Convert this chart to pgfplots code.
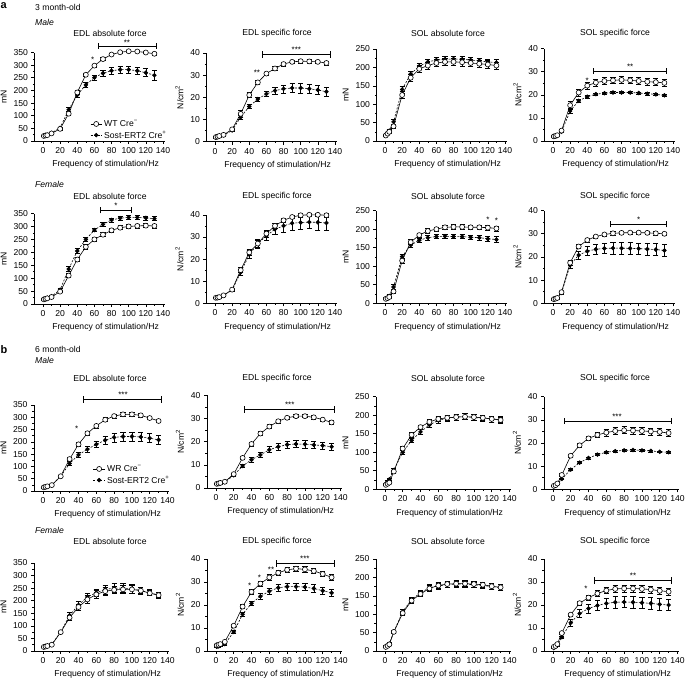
\documentclass[border=0pt]{standalone}
\usepackage{fontspec}
\setmainfont{Liberation Sans}
\usepackage{pgfplots}
\pgfplotsset{compat=1.18}
\newcommand\fs{\fontsize{8.6}{10}\selectfont}
\newcommand\fss{\fontsize{8}{8}\selectfont}
\pgfplotsset{
 panel/.style={scale only axis, axis lines=left, axis line style={-, line width=0.6pt},
  tick align=outside, major tick length=3pt, minor tick length=1.6pt,
  every tick/.style={line width=0.6pt, black},
  xmin=-10, xmax=142, ymin=0, xtick={0,20,...,140}, minor x tick num=1, minor y tick num=1,
  clip=false, enlargelimits=false, /pgf/number format/assume math mode=true,
  tick label style={font=\fs}, label style={font=\fs},
  xlabel={Frequency of stimulation/Hz}, xlabel style={xshift=6pt},
  anchor=south west},
 r12/.style={width=130.3pt}, r34/.style={width=135.3pt},
 mnA/.style={ymax=350, ytick={0,50,...,350}, ylabel={mN}},
 mnB/.style={ymax=250, ytick={0,50,...,250}, ylabel={mN}},
 ncm/.style={ymax=40, ytick={0,10,...,40}, ylabel={N/cm\textsuperscript{2}}},
 wt/.style={black, solid, line width=0.6pt, mark=*, mark size=2.5pt, mark options={solid, fill=white, line width=0.6pt},
  error bars/.cd, y dir=both, y explicit, error bar style={line width=0.6pt, solid},
  error mark options={rotate=90, mark size=2.6pt, line width=0.6pt}},
 mut/.style={black, dash pattern=on 2pt off 1.5pt, line width=0.6pt, mark=*, mark size=1.9pt, mark options={solid, fill=black},
  error bars/.cd, y dir=both, y explicit, error bar style={line width=0.6pt, solid},
  error mark options={rotate=90, mark size=2.6pt, line width=0.6pt}},
 leg/.style={reverse legend, legend cell align=left,
  legend style={draw=none, fill=none, font=\fs, inner sep=0pt, row sep=-1pt, anchor=north west},
  legend image code/.code={\draw[mark repeat=2,mark phase=2,##1] plot coordinates {(0cm,0cm) (0.2cm,0cm) (0.4cm,0cm)};}},
}
\newcommand\sigbar[3]{\draw[line width=0.6pt, |-|] (axis cs:#1,#3) -- (axis cs:#2,#3);}
\newcommand\sig[3]{\node[font=\fss, inner sep=0pt] at (axis cs:#1,#2) {#3};}
\begin{document}
\begin{tikzpicture}
\path[use as bounding box] (0,0) rectangle (685pt,-680pt);
% headings
\node[font=\bfseries\fontsize{11}{11}\selectfont, anchor=north west, inner sep=0pt] at (0.5pt,-2.5pt) {a};
\node[font=\fs, anchor=west, inner sep=0pt] at (35pt,-7pt) {3 month-old};
\node[font=\fs\itshape, anchor=west, inner sep=0pt] at (35pt,-22pt) {Male};
\node[font=\fs\itshape, anchor=west, inner sep=0pt] at (35pt,-184pt) {Female};
\node[font=\bfseries\fontsize{11}{11}\selectfont, anchor=west, inner sep=0pt] at (0.5pt,-350pt) {b};
\node[font=\fs, anchor=west, inner sep=0pt] at (35pt,-349pt) {6 month-old};
\node[font=\fs\itshape, anchor=west, inner sep=0pt] at (35pt,-360pt) {Male};
\node[font=\fs\itshape, anchor=west, inner sep=0pt] at (35pt,-530pt) {Female};
\foreach \yy in {33,196,378,541}{
 \node[font=\fs] at (110pt,-\yy pt) {EDL absolute force};
 \node[font=\fs] at (277pt,-\yy pt) {EDL specific force};
 \node[font=\fs] at (448pt,-\yy pt) {SOL absolute force};
 \node[font=\fs] at (615pt,-\yy pt) {SOL specific force};
}
%%%%%%%%%%%% ROW 1
\begin{axis}[panel, r12, mnA, leg, at={(34.4pt,-141pt)}, height=88.5pt,
 legend style={at={(0.427,0.26)}}]
\addplot+[mut] coordinates {(1,21)+-(0,2)(3,23)+-(0,2)(5,25)+-(0,2)(10,32)+-(0,3)(20,52)+-(0,4)(30,124)+-(0,8)(40,182)+-(0,8)(50,222)+-(0,9)(60,251)+-(0,10)(70,268)+-(0,13)(80,278)+-(0,15)(90,282)+-(0,15)(100,282)+-(0,15)(110,278)+-(0,15)(120,270)+-(0,16)(130,260)+-(0,18)};
\addlegendentry{Sost-ERT2 Cre\textsuperscript{+}}
\addplot+[wt] coordinates {(1,20)+-(0,2)(3,22)+-(0,2)(5,23)+-(0,2)(10,30)+-(0,3)(20,48)+-(0,4)(30,108)+-(0,8)(40,192)+-(0,7)(50,262)+-(0,6)(60,298)+-(0,6)(70,324)+-(0,6)(80,342)+-(0,5)(90,351)+-(0,5)(100,355)+-(0,5)(110,354)+-(0,5)(120,350)+-(0,5)(130,345)+-(0,5)};
\addlegendentry{WT Cre\textsuperscript{−}}
\sigbar{64}{132}{376}\sig{98}{390}{**}\sig{58}{320}{*}
\end{axis}
\begin{axis}[panel, r12, ncm, at={(206.4pt,-141.5pt)}, height=88.5pt]
\addplot+[mut] coordinates {(1,1.9)+-(0,0.3)(3,2)+-(0,0.3)(5,2.2)+-(0,0.3)(10,2.8)+-(0,0.4)(20,5)+-(0,0.6)(30,11)+-(0,1)(40,15.8)+-(0,0.8)(50,19.2)+-(0,1)(60,21.5)+-(0,1.2)(70,23)+-(0,1.6)(80,23.8)+-(0,1.8)(90,24.2)+-(0,2)(100,24.2)+-(0,2.2)(110,23.8)+-(0,2)(120,23.3)+-(0,2)(130,22.5)+-(0,2)};
\addplot+[wt] coordinates {(1,2)+-(0,0.3)(3,2.2)+-(0,0.3)(5,2.5)+-(0,0.3)(10,3)+-(0,0.4)(20,5.5)+-(0,0.6)(30,12.5)+-(0,1.5)(40,21)+-(0,1.2)(50,26.7)+-(0,1)(60,30.7)+-(0,0.8)(70,33)+-(0,0.8)(80,35)+-(0,0.8)(90,36)+-(0,0.8)(100,36.3)+-(0,0.8)(110,36.2)+-(0,0.8)(120,36)+-(0,0.8)(130,35.5)+-(0,0.9)};
\sigbar{55}{135}{39.3}\sig{95}{41.3}{***}\sig{49}{31}{**}
\end{axis}
\begin{axis}[panel, r12, mnB, at={(376.4pt,-141pt)}, height=92pt]
\addplot+[mut] coordinates {(1,17)+-(0,2)(3,22)+-(0,3)(5,28)+-(0,4)(10,52)+-(0,8)(20,140)+-(0,10)(30,182)+-(0,8)(40,203)+-(0,8)(50,215)+-(0,8)(60,220)+-(0,8)(70,222)+-(0,8)(80,223)+-(0,8)(90,222)+-(0,8)(100,220)+-(0,8)(110,218)+-(0,8)(120,215)+-(0,8)(130,213)+-(0,8)};
\addplot+[wt] coordinates {(1,15)+-(0,2)(3,20)+-(0,3)(5,25)+-(0,4)(10,40)+-(0,6)(20,125)+-(0,10)(30,172)+-(0,10)(40,196)+-(0,10)(50,205)+-(0,10)(60,212)+-(0,10)(70,215)+-(0,10)(80,215)+-(0,10)(90,214)+-(0,10)(100,212)+-(0,10)(110,210)+-(0,10)(120,208)+-(0,10)(130,205)+-(0,10)};
\end{axis}
\begin{axis}[panel, r12, ncm, at={(544.4pt,-141pt)}, height=92.3pt]
\addplot+[mut] coordinates {(1,1.8)+-(0,0.2)(3,2)+-(0,0.2)(5,2.3)+-(0,0.2)(10,4)+-(0,0.4)(20,13)+-(0,0.8)(30,17.4)+-(0,0.5)(40,19.2)+-(0,0.5)(50,20.3)+-(0,0.5)(60,20.7)+-(0,0.5)(70,21)+-(0,0.5)(80,21)+-(0,0.5)(90,21)+-(0,0.5)(100,20.8)+-(0,0.5)(110,20.5)+-(0,0.5)(120,20.2)+-(0,0.5)(130,19.8)+-(0,0.5)};
\addplot+[wt] coordinates {(1,2)+-(0,0.3)(3,2.2)+-(0,0.3)(5,2.5)+-(0,0.4)(10,4.5)+-(0,0.6)(20,15.5)+-(0,1.5)(30,21)+-(0,1.5)(40,24)+-(0,1.5)(50,25.3)+-(0,1.5)(60,26)+-(0,1.5)(70,26.3)+-(0,1.5)(80,26.5)+-(0,1.5)(90,26.3)+-(0,1.5)(100,26)+-(0,1.5)(110,25.7)+-(0,1.5)(120,25.5)+-(0,1.5)(130,25.2)+-(0,1.5)};
\sigbar{47}{133}{30.3}\sig{90}{32.2}{**}\sig{40}{26.3}{*}
\end{axis}
%%%%%%%%%%%% ROW 2
\begin{axis}[panel, r12, mnA, at={(34.4pt,-304pt)}, height=90.5pt]
\addplot+[mut] coordinates {(1,20)+-(0,2)(3,22)+-(0,2)(5,24)+-(0,2)(10,30)+-(0,3)(20,55)+-(0,4)(30,135)+-(0,10)(40,205)+-(0,10)(50,250)+-(0,9)(60,286)+-(0,6)(70,308)+-(0,7)(80,325)+-(0,8)(90,332)+-(0,8)(100,335)+-(0,8)(110,335)+-(0,8)(120,333)+-(0,8)(130,330)+-(0,8)};
\addplot+[wt] coordinates {(1,18)+-(0,2)(3,20)+-(0,2)(5,22)+-(0,2)(10,27)+-(0,3)(20,48)+-(0,4)(30,110)+-(0,8)(40,172)+-(0,8)(50,221)+-(0,8)(60,250)+-(0,8)(70,268)+-(0,8)(80,285)+-(0,8)(90,295)+-(0,8)(100,300)+-(0,8)(110,302)+-(0,8)(120,303)+-(0,8)(130,302)+-(0,8)};
\sigbar{67}{103}{363}\sig{85}{379}{*}
\end{axis}
\begin{axis}[panel, r12, ncm, at={(206.4pt,-303.3pt)}, height=88.5pt]
\addplot+[mut] coordinates {(1,2.4)+-(0,0.3)(3,2.5)+-(0,0.3)(5,2.7)+-(0,0.3)(10,3.5)+-(0,0.4)(20,6)+-(0,0.5)(30,14)+-(0,1.5)(40,22)+-(0,1.8)(50,27)+-(0,2)(60,30.5)+-(0,2)(70,33.5)+-(0,2.5)(80,35)+-(0,3)(90,36.2)+-(0,3)(100,36.5)+-(0,3)(110,36.7)+-(0,3)(120,36.6)+-(0,3.5)(130,36.3)+-(0,3.5)};
\addplot+[wt] coordinates {(1,2.5)+-(0,0.3)(3,2.6)+-(0,0.3)(5,2.8)+-(0,0.3)(10,3.6)+-(0,0.4)(20,6.2)+-(0,0.5)(30,15)+-(0,1.2)(40,23)+-(0,1.2)(50,27)+-(0,1.5)(60,31.5)+-(0,1.5)(70,35)+-(0,1)(80,37.5)+-(0,1)(90,39)+-(0,0.8)(100,39.8)+-(0,0.8)(110,40)+-(0,0.8)(120,40)+-(0,0.8)(130,39.8)+-(0,0.8)};
\end{axis}
\begin{axis}[panel, r12, mnB, at={(376.4pt,-303.3pt)}, height=92.7pt]
\addplot+[mut] coordinates {(1,13)+-(0,2)(3,16)+-(0,2)(5,20)+-(0,3)(10,44)+-(0,6)(20,126)+-(0,7)(30,157)+-(0,6)(40,170)+-(0,6)(50,177)+-(0,6)(60,180)+-(0,6)(70,181)+-(0,6)(80,180)+-(0,6)(90,180)+-(0,6)(100,178)+-(0,6)(110,177)+-(0,7)(120,174)+-(0,8)(130,172)+-(0,8)};
\addplot+[wt] coordinates {(1,12)+-(0,2)(3,14)+-(0,2)(5,17)+-(0,3)(10,32)+-(0,5)(20,115)+-(0,7)(30,165)+-(0,7)(40,184)+-(0,6)(50,195)+-(0,6)(60,200)+-(0,6)(70,205)+-(0,6)(80,206)+-(0,6)(90,206)+-(0,6)(100,205)+-(0,6)(110,205)+-(0,6)(120,204)+-(0,7)(130,202)+-(0,7)};
\sig{120}{226}{*}\sig{130}{222}{*}
\end{axis}
\begin{axis}[panel, r12, ncm, at={(544.4pt,-303.3pt)}, height=92.7pt]
\addplot+[mut] coordinates {(1,1.7)+-(0,0.2)(3,1.9)+-(0,0.2)(5,2.2)+-(0,0.3)(10,4.5)+-(0,0.5)(20,16.5)+-(0,1.5)(30,20.8)+-(0,1.8)(40,22.5)+-(0,2)(50,23.3)+-(0,2.2)(60,23.7)+-(0,2.3)(70,23.8)+-(0,2.5)(80,23.8)+-(0,2.5)(90,23.7)+-(0,2.5)(100,23.6)+-(0,2.5)(110,23.4)+-(0,2.5)(120,23.2)+-(0,2.5)(130,22.8)+-(0,2.5)};
\addplot+[wt] coordinates {(1,1.8)+-(0,0.2)(3,2)+-(0,0.2)(5,2.3)+-(0,0.3)(10,4.8)+-(0,0.5)(20,17.5)+-(0,1)(30,24.5)+-(0,0.8)(40,27.3)+-(0,0.8)(50,28.8)+-(0,0.7)(60,29.7)+-(0,0.7)(70,30.2)+-(0,0.7)(80,30.4)+-(0,0.7)(90,30.5)+-(0,0.7)(100,30.5)+-(0,0.7)(110,30.4)+-(0,0.7)(120,30.2)+-(0,0.7)(130,30)+-(0,0.7)};
\sigbar{67}{133}{34.1}\sig{100}{36}{*}
\end{axis}
%%%%%%%%%%%% ROW 3
\begin{axis}[panel, r34, mnA, leg, at={(34pt,-491pt)}, height=86pt,
 legend style={at={(0.436,0.326)}}]
\addplot+[mut] coordinates {(1,15)+-(0,2)(3,17)+-(0,2)(5,19)+-(0,2)(10,25)+-(0,3)(20,60)+-(0,5)(30,112)+-(0,8)(40,147)+-(0,10)(50,170)+-(0,12)(60,190)+-(0,14)(70,207)+-(0,16)(80,218)+-(0,18)(90,222)+-(0,18)(100,222)+-(0,18)(110,220)+-(0,18)(120,215)+-(0,18)(130,208)+-(0,18)};
\addlegendentry{Sost-ERT2 Cre\textsuperscript{+}}
\addplot+[wt] coordinates {(1,15)+-(0,2)(3,17)+-(0,2)(5,19)+-(0,2)(10,24)+-(0,3)(20,60)+-(0,5)(30,130)+-(0,7)(40,190)+-(0,8)(50,235)+-(0,8)(60,265)+-(0,8)(70,290)+-(0,8)(80,305)+-(0,8)(90,312)+-(0,8)(100,312)+-(0,8)(110,308)+-(0,8)(120,297)+-(0,7)(130,285)+-(0,7)};
\addlegendentry{WR Cre\textsuperscript{−}}
\sigbar{45}{133}{373}\sig{90}{390}{***}\sig{38}{255}{*}
\end{axis}
\begin{axis}[panel, r34, ncm, at={(207pt,-488pt)}, height=92.7pt]
\addplot+[mut] coordinates {(1,1.7)+-(0,0.2)(3,1.8)+-(0,0.2)(5,2)+-(0,0.2)(10,2.5)+-(0,0.3)(20,5.5)+-(0,0.5)(30,9.5)+-(0,0.7)(40,12.2)+-(0,1)(50,14.3)+-(0,1.2)(60,16.5)+-(0,1.3)(70,17.8)+-(0,1.4)(80,18.7)+-(0,1.5)(90,19)+-(0,1.6)(100,18.9)+-(0,1.6)(110,18.6)+-(0,1.5)(120,18.3)+-(0,1.5)(130,17.8)+-(0,1.5)};
\addplot+[wt] coordinates {(1,1.8)+-(0,0.2)(3,2)+-(0,0.2)(5,2.2)+-(0,0.2)(10,2.7)+-(0,0.3)(20,6)+-(0,0.4)(30,13)+-(0,0.6)(40,19)+-(0,0.8)(50,23.5)+-(0,0.8)(60,26.5)+-(0,0.8)(70,28.8)+-(0,0.7)(80,30.3)+-(0,0.7)(90,31)+-(0,0.7)(100,31)+-(0,0.7)(110,30.5)+-(0,0.7)(120,29.5)+-(0,0.7)(130,28.3)+-(0,0.7)};
\sigbar{32}{133}{33.8}\sig{83}{35.8}{***}
\end{axis}
\begin{axis}[panel, r34, mnB, at={(376pt,-489.3pt)}, height=92.6pt]
\addplot+[mut] coordinates {(1,15)+-(0,2)(3,20)+-(0,3)(5,27)+-(0,3)(10,52)+-(0,4)(20,100)+-(0,5)(30,132)+-(0,6)(40,155)+-(0,7)(50,174)+-(0,7)(60,186)+-(0,8)(70,192)+-(0,8)(80,195)+-(0,8)(90,196)+-(0,8)(100,194)+-(0,8)(110,192)+-(0,8)(120,190)+-(0,8)(130,188)+-(0,8)};
\addplot+[wt] coordinates {(1,12)+-(0,2)(3,15)+-(0,2)(5,18)+-(0,3)(10,48)+-(0,4)(20,110)+-(0,5)(30,147)+-(0,6)(40,168)+-(0,6)(50,182)+-(0,7)(60,190)+-(0,7)(70,193)+-(0,8)(80,195)+-(0,8)(90,196)+-(0,8)(100,195)+-(0,8)(110,193)+-(0,8)(120,190)+-(0,8)(130,187)+-(0,8)};
\end{axis}
\begin{axis}[panel, r34, ncm, at={(544pt,-489.3pt)}, height=92.6pt]
\addplot+[mut] coordinates {(1,1.3)+-(0,0.2)(3,1.6)+-(0,0.2)(5,2.2)+-(0,0.2)(10,4.5)+-(0,0.3)(20,8.5)+-(0,0.4)(30,11.5)+-(0,0.4)(40,13.5)+-(0,0.4)(50,15)+-(0,0.4)(60,16)+-(0,0.4)(70,16.5)+-(0,0.4)(80,16.8)+-(0,0.4)(90,17)+-(0,0.4)(100,16.8)+-(0,0.4)(110,16.6)+-(0,0.4)(120,16.2)+-(0,0.4)(130,16)+-(0,0.4)};
\addplot+[wt] coordinates {(1,1.5)+-(0,0.2)(3,1.8)+-(0,0.2)(5,2.5)+-(0,0.3)(10,6.2)+-(0,0.6)(20,14.5)+-(0,0.6)(30,19)+-(0,0.8)(40,22)+-(0,1)(50,23.5)+-(0,1.2)(60,24.5)+-(0,1.4)(70,25.2)+-(0,1.5)(80,25.5)+-(0,1.5)(90,25.4)+-(0,1.5)(100,25.2)+-(0,1.5)(110,25)+-(0,1.5)(120,24.8)+-(0,1.5)(130,24.3)+-(0,1.5)};
\sigbar{13}{133}{29.5}\sig{72}{31.5}{***}
\end{axis}
%%%%%%%%%%%% ROW 4
\begin{axis}[panel, r34, mnA, at={(34pt,-651pt)}, height=88pt]
\addplot+[mut] coordinates {(1,16)+-(0,2)(3,18)+-(0,2)(5,20)+-(0,2)(10,27)+-(0,3)(20,75)+-(0,5)(30,142)+-(0,12)(40,183)+-(0,15)(50,215)+-(0,15)(60,232)+-(0,15)(70,245)+-(0,18)(80,250)+-(0,18)(90,250)+-(0,18)(100,248)+-(0,18)(110,240)+-(0,15)(120,232)+-(0,12)(130,222)+-(0,12)};
\addplot+[wt] coordinates {(1,16)+-(0,2)(3,18)+-(0,2)(5,20)+-(0,2)(10,25)+-(0,3)(20,75)+-(0,5)(30,133)+-(0,10)(40,175)+-(0,12)(50,205)+-(0,15)(60,225)+-(0,15)(70,238)+-(0,15)(80,243)+-(0,15)(90,245)+-(0,15)(100,245)+-(0,15)(110,240)+-(0,12)(120,230)+-(0,10)(130,222)+-(0,10)};
\end{axis}
\begin{axis}[panel, r34, ncm, at={(207pt,-651pt)}, height=92pt]
\addplot+[mut] coordinates {(1,1.8)+-(0,0.3)(3,2)+-(0,0.3)(5,2.5)+-(0,0.3)(10,3)+-(0,0.4)(20,8.3)+-(0,0.6)(30,16)+-(0,0.8)(40,20.7)+-(0,1)(50,23.8)+-(0,1.2)(60,26)+-(0,1.3)(70,27.5)+-(0,1.5)(80,28)+-(0,1.6)(90,28)+-(0,1.6)(100,27.8)+-(0,1.6)(110,27.2)+-(0,1.6)(120,26.2)+-(0,1.6)(130,25.3)+-(0,1.6)};
\addplot+[wt] coordinates {(1,2.5)+-(0,0.3)(3,2.7)+-(0,0.3)(5,3)+-(0,0.3)(10,4)+-(0,0.4)(20,11)+-(0,0.6)(30,19.3)+-(0,0.8)(40,25.7)+-(0,1)(50,29.3)+-(0,1)(60,32)+-(0,1.2)(70,34)+-(0,1.2)(80,35.3)+-(0,1.2)(90,35.8)+-(0,1.2)(100,35.5)+-(0,1.2)(110,34.8)+-(0,1.2)(120,33.5)+-(0,1.2)(130,32)+-(0,1.2)};
\sigbar{68}{133}{38.1}\sig{100}{40.2}{***}\sig{38}{28.5}{*}\sig{49}{32}{*}\sig{62}{35.5}{**}
\end{axis}
\begin{axis}[panel, r34, mnB, at={(376pt,-651pt)}, height=92pt]
\addplot+[mut] coordinates {(1,13)+-(0,2)(3,16)+-(0,2)(5,20)+-(0,3)(10,52)+-(0,4)(20,107)+-(0,6)(30,140)+-(0,7)(40,158)+-(0,7)(50,172)+-(0,8)(60,177)+-(0,8)(70,180)+-(0,8)(80,182)+-(0,8)(90,182)+-(0,8)(100,180)+-(0,8)(110,178)+-(0,8)(120,175)+-(0,8)(130,172)+-(0,8)};
\addplot+[wt] coordinates {(1,11)+-(0,2)(3,14)+-(0,2)(5,18)+-(0,3)(10,52)+-(0,4)(20,103)+-(0,6)(30,137)+-(0,7)(40,155)+-(0,7)(50,170)+-(0,8)(60,178)+-(0,8)(70,182)+-(0,8)(80,183)+-(0,8)(90,183)+-(0,8)(100,182)+-(0,8)(110,180)+-(0,8)(120,176)+-(0,8)(130,173)+-(0,8)};
\end{axis}
\begin{axis}[panel, r34, ncm, at={(544pt,-651pt)}, height=92pt]
\addplot+[mut] coordinates {(1,1.3)+-(0,0.3)(3,1.8)+-(0,0.3)(5,2.5)+-(0,0.3)(10,6)+-(0,0.6)(20,12.3)+-(0,1.5)(30,16.3)+-(0,1.8)(40,18.5)+-(0,2)(50,19.8)+-(0,2.2)(60,20.7)+-(0,2.3)(70,21.2)+-(0,2.5)(80,21.3)+-(0,2.5)(90,21.2)+-(0,2.5)(100,21)+-(0,2.5)(110,20.7)+-(0,2.5)(120,20.3)+-(0,2.5)(130,20)+-(0,2.5)};
\addplot+[wt] coordinates {(1,1.8)+-(0,0.3)(3,2.2)+-(0,0.3)(5,3)+-(0,0.3)(10,7.8)+-(0,0.5)(20,15.8)+-(0,0.8)(30,20.8)+-(0,1)(40,23.2)+-(0,1.2)(50,25)+-(0,1.3)(60,26.3)+-(0,1.4)(70,27)+-(0,1.5)(80,27.2)+-(0,1.5)(90,27.2)+-(0,1.5)(100,27)+-(0,1.5)(110,26.7)+-(0,1.5)(120,26.2)+-(0,1.5)(130,25.8)+-(0,1.5)};
\sigbar{46}{133}{30.7}\sig{90}{32.8}{**}\sig{37}{27.2}{*}
\end{axis}
\end{tikzpicture}
\end{document}
